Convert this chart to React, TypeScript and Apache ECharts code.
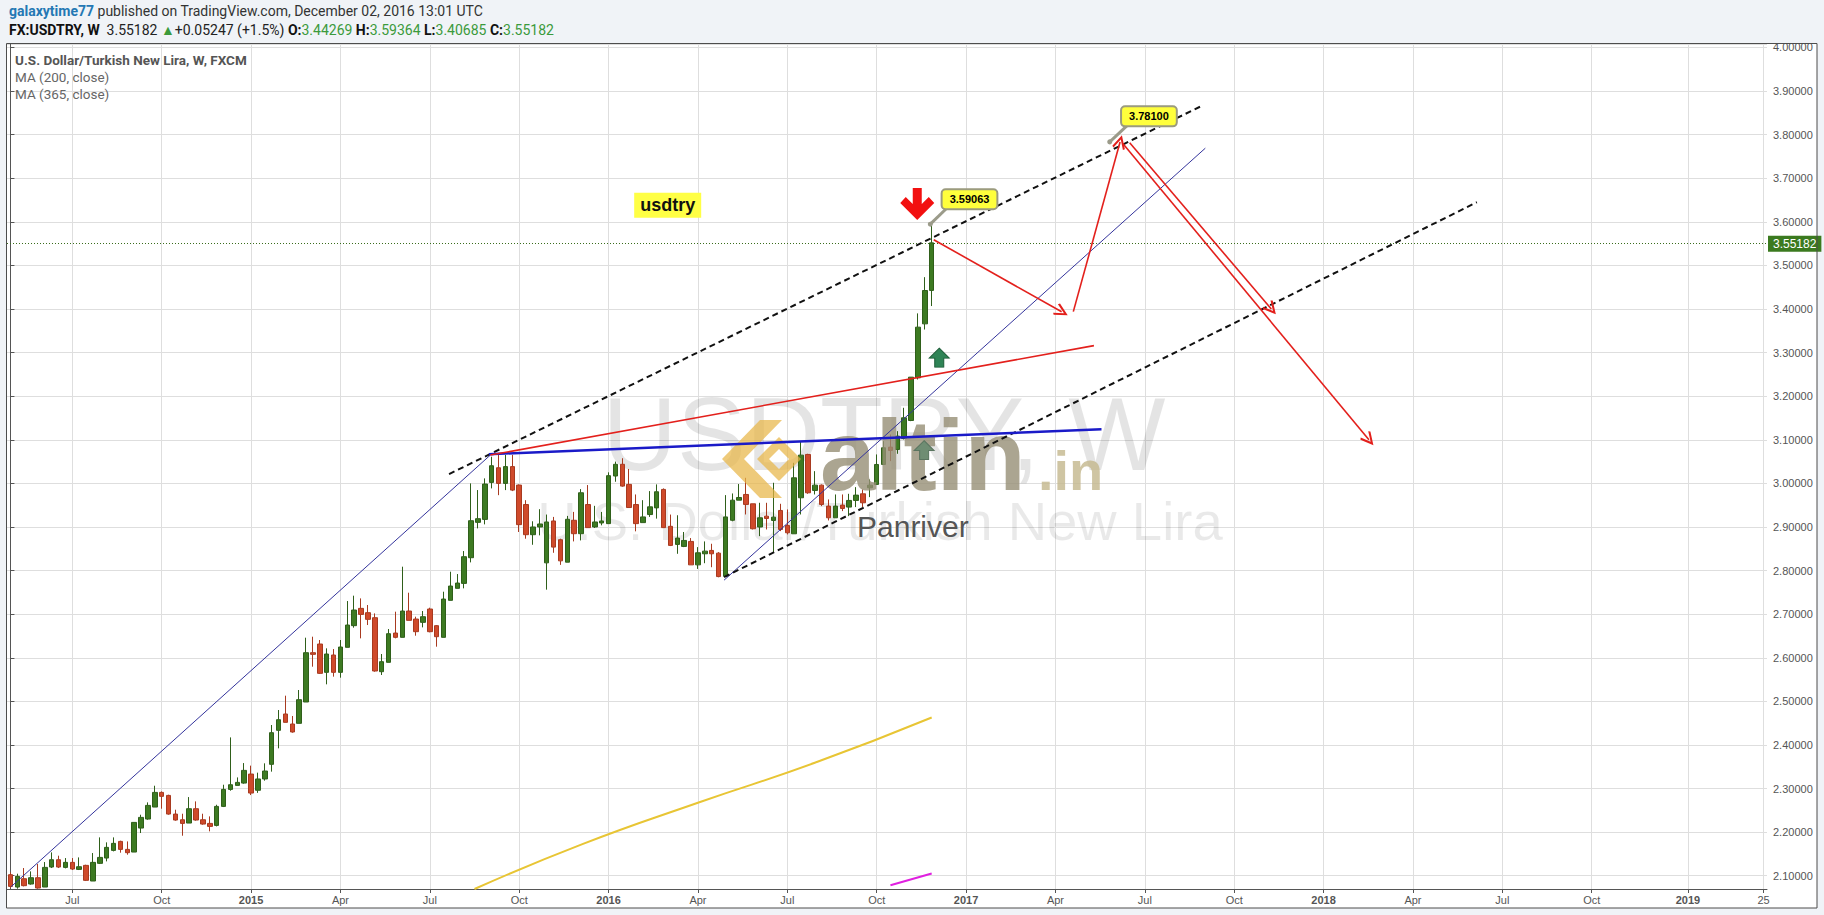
import React, { useEffect, useRef } from 'react';
import * as echarts from 'echarts';

// ---------- categories (weekly bars, Monday dates) ----------
const FIRST_WEEK_UTC = Date.UTC(2014, 4, 5);
const WEEK_COUNT = 256;
const WEEK_MS = 7 * 24 * 3600 * 1000;
const WEEKS: Date[] = Array.from({ length: WEEK_COUNT }, (_, i) => new Date(FIRST_WEEK_UTC + i * WEEK_MS));
const CATEGORIES = WEEKS.map((d) => d.toISOString().slice(0, 10));
const MONTH_ABBR = ['Jan', 'Feb', 'Mar', 'Apr', 'May', 'Jun', 'Jul', 'Aug', 'Sep', 'Oct', 'Nov', 'Dec'];

// ---------- OHLC (weekly) ----------
const OPEN = [
  2.1023, 2.074, 2.0931, 2.0809, 2.0954, 2.074, 2.1199, 2.1367, 2.1191, 2.1306,
  2.1145, 2.1237, 2.0878, 2.1283, 2.1405, 2.1581, 2.1787, 2.1604, 2.1543, 2.2093,
  2.23, 2.2575, 2.2911, 2.2842, 2.2414, 2.2284, 2.2208, 2.2537, 2.2284, 2.22,
  2.2154, 2.259, 2.298, 2.3072, 2.3125, 2.3332, 2.296, 2.3219, 2.3555, 2.4335,
  2.471, 2.448, 2.4495, 2.4985, 2.6116, 2.6315, 2.5665, 2.6063, 2.5665, 2.6239,
  2.6736, 2.7133, 2.7034, 2.6919, 2.568, 2.5895, 2.6567, 2.6468, 2.7072, 2.6888,
  2.6812, 2.7118, 2.6736, 2.6468, 2.7317, 2.7592, 2.7706, 2.8295, 2.9106, 2.9174,
  3.0023, 3.0359, 3.0, 3.0385, 2.9962, 2.9515, 2.8823, 2.9, 2.8177, 2.9138,
  2.8708, 2.8192, 2.9154, 2.8846, 2.9515, 2.9, 2.9092, 2.9077, 3.0169, 3.0438,
  2.9977, 2.9515, 2.91, 2.9285, 2.9438, 2.9862, 2.9015, 2.86, 2.8554, 2.8669,
  2.8131, 2.8385, 2.8462, 2.84, 2.7869, 2.9154, 2.9615, 2.9746, 2.9532, 2.9,
  2.9249, 2.915, 2.9379, 2.9035, 2.8844, 2.967, 3.0664, 2.9838, 2.996, 2.9479,
  2.9211, 2.9502, 2.9456, 2.9609, 2.9761, 2.9899, 2.9976, 3.0434, 3.0832, 3.0778,
  3.1031, 3.1443, 3.2422, 3.366, 3.44269,
];
const HIGH = [
  2.1076, 2.1046, 2.1176, 2.1099, 2.1268, 2.1313, 2.1535, 2.1459, 2.1405, 2.1405,
  2.142, 2.1252, 2.152, 2.1879, 2.1765, 2.1879, 2.1803, 2.1787, 2.2223, 2.2399,
  2.2682, 2.3064, 2.2934, 2.2858, 2.2514, 2.2422, 2.2804, 2.2705, 2.2422, 2.2361,
  2.2628, 2.3087, 2.4173, 2.3255, 2.3584, 2.3525, 2.3364, 2.3578, 2.4457, 2.4801,
  2.513, 2.4664, 2.526, 2.646, 2.6483, 2.6407, 2.6216, 2.62, 2.6407, 2.7301,
  2.7424, 2.7362, 2.721, 2.7018, 2.6086, 2.6659, 2.7057, 2.8089, 2.7492, 2.6942,
  2.7072, 2.7148, 2.6751, 2.7515, 2.7974, 2.792, 2.8448, 3.0, 2.9847, 3.0115,
  3.0612, 3.065, 3.0654, 3.0654, 2.9977, 2.9615, 2.9131, 2.9408, 2.9285, 2.9231,
  2.8731, 2.9254, 2.9346, 2.9869, 2.9962, 2.9485, 2.9346, 3.0254, 3.05, 3.0577,
  3.0331, 2.9746, 2.9615, 2.9823, 2.9977, 2.9885, 2.9285, 2.9269, 2.8885, 2.8746,
  2.8538, 2.8669, 2.8615, 2.8423, 2.9731, 2.9769, 2.9985, 3.0128, 2.9532, 2.9555,
  2.9555, 3.0014, 2.9532, 2.9402, 3.0472, 3.0969, 3.0679, 3.0281, 2.9976, 2.9632,
  2.9746, 2.9746, 2.9761, 2.9914, 2.9861, 3.009, 3.0664, 3.0969, 3.1122, 3.1199,
  3.1734, 3.2437, 3.39, 3.4731, 3.59364,
];
const LOW = [
  2.0717, 2.0702, 2.0755, 2.0794, 2.0702, 2.074, 2.1176, 2.1176, 2.1168, 2.113,
  2.113, 2.0878, 2.0878, 2.1268, 2.1329, 2.1558, 2.1528, 2.1482, 2.1543, 2.1979,
  2.2284, 2.2575, 2.2537, 2.2399, 2.2261, 2.1917, 2.2208, 2.2261, 2.217, 2.2017,
  2.2131, 2.2575, 2.295, 2.3072, 2.311, 2.285, 2.29, 2.318, 2.3387, 2.3922,
  2.4518, 2.4281, 2.4495, 2.4985, 2.5795, 2.5627, 2.539, 2.5566, 2.5543, 2.6239,
  2.669, 2.6445, 2.6751, 2.568, 2.5604, 2.5895, 2.6445, 2.6468, 2.6858, 2.6506,
  2.6697, 2.6583, 2.6254, 2.6468, 2.7317, 2.7592, 2.7592, 2.8188, 2.8968, 2.906,
  2.9885, 2.973, 2.9846, 2.9823, 2.8885, 2.8731, 2.8592, 2.8808, 2.7562, 2.8408,
  2.8131, 2.8192, 2.8669, 2.8692, 2.8985, 2.8977, 2.9038, 2.9077, 3.0038, 2.9923,
  2.9438, 2.89, 2.91, 2.9231, 2.9192, 2.8985, 2.8562, 2.8385, 2.8538, 2.8131,
  2.8038, 2.8169, 2.8077, 2.7846, 2.7862, 2.9131, 2.9615, 2.9287, 2.8943, 2.879,
  2.8943, 2.8408, 2.8905, 2.8829, 2.8844, 2.9287, 2.9761, 2.9746, 2.9479, 2.915,
  2.9211, 2.9364, 2.9249, 2.9456, 2.9456, 2.9685, 2.9976, 3.0434, 3.0511, 3.0679,
  3.1008, 3.1428, 3.2384, 3.353, 3.40685,
];
const CLOSE = [
  2.0755, 2.0985, 2.0771, 2.0954, 2.0717, 2.1191, 2.1367, 2.1199, 2.1306, 2.1153,
  2.1206, 2.0893, 2.1306, 2.142, 2.165, 2.1742, 2.1604, 2.1528, 2.2223, 2.2338,
  2.2613, 2.2911, 2.282, 2.2414, 2.2277, 2.22, 2.2537, 2.2277, 2.2185, 2.2131,
  2.259, 2.298, 2.3087, 2.3141, 2.3416, 2.2896, 2.3219, 2.3402, 2.4281, 2.4579,
  2.4518, 2.4297, 2.5038, 2.6116, 2.6078, 2.5642, 2.6086, 2.5665, 2.6246, 2.6751,
  2.7095, 2.6995, 2.6881, 2.5696, 2.591, 2.6552, 2.6468, 2.7072, 2.6858, 2.6598,
  2.6942, 2.6598, 2.6483, 2.7347, 2.7645, 2.7714, 2.8318, 2.9144, 2.919, 2.9985,
  3.0405, 3.0, 3.0385, 2.9846, 2.9054, 2.8823, 2.9, 2.9069, 2.9115, 2.8538,
  2.8223, 2.9177, 2.8846, 2.9785, 2.8985, 2.9115, 2.9138, 3.0177, 3.0438, 2.9938,
  2.9446, 2.9077, 2.9231, 2.9462, 2.9808, 2.8985, 2.8577, 2.8746, 2.8692, 2.8131,
  2.8408, 2.8446, 2.8385, 2.7862, 2.9231, 2.9615, 2.9677, 2.9517, 2.8959, 2.9211,
  2.9196, 2.9226, 2.8943, 2.8867, 3.0128, 3.0648, 2.9784, 2.996, 2.9517, 2.9211,
  2.9479, 2.9425, 2.9609, 2.9731, 2.9555, 2.996, 3.0434, 3.0817, 3.0755, 3.1084,
  3.1505, 3.2437, 3.3584, 3.4425, 3.55182,
];
const LAST_PRICE = 3.55182;

// ---------- moving averages (read at a few weeks) ----------
const MA200_WEEK = [67.5, 83.1, 100.1, 117, 134];
const MA200_VALUE = [2.0695, 2.172, 2.268, 2.359, 2.463];
const MA365_WEEK = [128, 134];
const MA365_VALUE = [2.078, 2.105];

// ---------- drawings ([week, price] pairs) ----------
const THIN_TRENDS = [
  [[0.1, 2.0748], [69.8, 3.0649]],
  [[103.8, 2.778], [173.8, 3.769]],
];
const CHANNEL = [
  [[63.8, 3.0213], [173.2, 3.8654]],
  [[103.8, 2.785], [213.3, 3.645]],
];
const SUPPORT = [[69.6, 3.067], [158.7, 3.124]];
const RED_LINE = [[69.8, 3.065], [157.6, 3.316]];
const RED_ARROWS = [
  [[134.3, 3.559], [152.9, 3.3936]],
  [[154.6, 3.394], [161.4, 3.783]],
  [[162.8, 3.7815], [183.4, 3.40]],
  [[161.8, 3.78], [197.6, 3.10]],
];
const CALLOUTS = [
  { text: '3.59063', box: [139.5, 3.652], tail: [136.3, 3.633], dot: [133.8, 3.5947] },
  { text: '3.78100', box: [165.6, 3.842], tail: [162.5, 3.8218], dot: [159.9, 3.7835] },
];
const NOTE_TEXT = 'usdtry';
const NOTE_AT = [95.6, 3.638];
const DOWN_ICON_AT = [131.9, 3.641];
const UP_ICONS_AT = [[135.1, 3.2885], [132.9, 3.0764]];

const AXIS_FONT = '"Liberation Sans", Arial, sans-serif';
const UI_FONT = '"Liberation Sans Narrow", Roboto, "Liberation Sans", sans-serif';

const LOGO_D =
  'M38,0 L60,0 L22,39 L60,78 L38,78 L0,39 Z ' +
  'M57,17 L79,39 L57,61 L35,39 Z M57,29 L47,39 L57,49 L67,39 Z';

const showTick = (i: number) => {
  if (i === WEEK_COUNT - 1) return true;
  const d = WEEKS[i];
  return d.getUTCMonth() % 3 === 0 && d.getUTCDate() <= 7;
};

const ARROW_HEAD = 'path://M6,0 L12,11 L10.5,12.3 L6,3.8 L1.5,12.3 L0,11 Z';

// baseline -> y for 'middle' (central) alignment in Liberation Sans
const mid = (baseline: number, size: number) => baseline - 0.3465 * size;

export default function App() {
  const ref = useRef<HTMLDivElement>(null);
  useEffect(() => {
    echarts.graphic.registerShape('altinLogo', echarts.graphic.extendPath(LOGO_D, {}));
    const chart = echarts.init(ref.current!, undefined, { renderer: 'svg' });

    const candles = OPEN.map((o, i) => [o, CLOSE[i], LOW[i], HIGH[i]]);

    const seg = (s: number[][], lineStyle: any, endSymbol: string = 'none') => [
      { coord: s[0], symbol: 'none', lineStyle },
      { coord: s[1], symbol: endSymbol, symbolSize: [13, 14], lineStyle },
    ];
    const thin = { color: '#34349c', width: 1, type: 'solid' };
    const dashed = { color: '#111', width: 2, type: [6, 4] };
    const thickBlue = { color: '#1a1ac8', width: 2.5, type: 'solid' };
    const red = { color: '#e3201c', width: 1.6, type: 'solid' };
    const tailStyle = { color: '#9b9b8a', width: 3, type: 'solid' };

    const drawLines: any[] = [
      ...THIN_TRENDS.map((s) => seg(s, thin)),
      ...CHANNEL.map((s) => seg(s, dashed)),
      seg(SUPPORT, thickBlue),
      seg(RED_LINE, red),
      ...RED_ARROWS.map((s) => seg(s, red, ARROW_HEAD)),
      ...CALLOUTS.map((c) => [
        { coord: c.dot, symbol: 'circle', symbolSize: 5, lineStyle: tailStyle, itemStyle: { color: '#8a8a8a' } },
        { coord: c.tail, symbol: 'none', lineStyle: tailStyle },
      ]),
    ];

    const calloutLabel = {
      show: true,
      position: 'inside',
      color: '#000',
      fontWeight: 'bold',
      fontSize: 11,
      fontFamily: AXIS_FONT,
      backgroundColor: '#ffff3c',
      borderColor: '#9b9b7e',
      borderWidth: 2,
      borderRadius: 3,
      padding: [4, 7, 3, 7],
    };

    const points: any[] = [
      {
        coord: NOTE_AT,
        symbol: 'rect',
        symbolSize: 1,
        itemStyle: { color: 'rgba(0,0,0,0)' },
        label: {
          show: true,
          position: 'inside',
          formatter: NOTE_TEXT,
          color: '#111',
          fontWeight: 'bold',
          fontSize: 18,
          fontFamily: AXIS_FONT,
          backgroundColor: '#ffff45',
          padding: [4, 6, 3, 6],
        },
      },
      ...CALLOUTS.map((c) => ({
        coord: c.box,
        symbol: 'rect',
        symbolSize: 1,
        itemStyle: { color: 'rgba(0,0,0,0)' },
        label: { ...calloutLabel, formatter: c.text },
      })),
      {
        coord: DOWN_ICON_AT,
        symbol:
          'path://M12.5,0 L21.5,0 L21.5,18 L17,22 L12.5,18 Z M0,15 L5.5,9 L17,20.5 L28.5,9 L34,15 L17,32 Z',
        symbolSize: [34, 32],
        itemStyle: { color: '#f21010' },
        label: { show: false },
      },
      ...UP_ICONS_AT.map((c, k) => ({
        coord: c,
        symbol: 'path://M10,0 L20,10 L14.5,10 L14.5,19 L5.5,19 L5.5,10 L0,10 Z',
        symbolSize: [20, 19],
        itemStyle: { color: k === 0 ? '#2f8456' : '#6f8d73', borderColor: k === 0 ? '#1f5e3a' : '#5b7560', borderWidth: 1 },
        label: { show: false },
      })),
    ];

    const option: any = {
      animation: false,
      backgroundColor: 'transparent',
      grid: { left: 7, right: 57, top: 44, bottom: 26, containLabel: false },
      xAxis: [
        {
          type: 'category',
          data: CATEGORIES,
          boundaryGap: true,
          axisLine: { show: true, lineStyle: { color: '#555', width: 1 } },
          axisTick: { show: true, alignWithLabel: true, interval: showTick, length: 4, lineStyle: { color: '#555' } },
          axisLabel: {
            interval: showTick,
            color: '#555',
            fontSize: 11,
            fontFamily: AXIS_FONT,
            margin: 5,
            formatter: (_v: string, i: number) => {
              const d = WEEKS[i];
              if (i === WEEK_COUNT - 1) return String(d.getUTCDate());
              if (d.getUTCMonth() === 0) return '{y|' + d.getUTCFullYear() + '}';
              return MONTH_ABBR[d.getUTCMonth()];
            },
            rich: { y: { fontWeight: 'bold', color: '#555', fontSize: 11, fontFamily: AXIS_FONT } },
          },
          splitLine: { show: true, interval: showTick, alignWithLabel: true, lineStyle: { color: '#dedede', width: 1 } },
        },
        { type: 'value', min: -0.5, max: WEEK_COUNT - 0.5, show: false },
      ],
      yAxis: {
        type: 'value',
        position: 'right',
        min: 2.0695,
        max: 4.008,
        splitNumber: 19,
        axisLine: { show: true, lineStyle: { color: '#555' } },
        axisTick: { show: true, length: 4, lineStyle: { color: '#555' } },
        axisLabel: {
          color: '#555',
          fontSize: 11,
          fontFamily: AXIS_FONT,
          margin: 6,
          showMinLabel: false,
          showMaxLabel: false,
          formatter: (v: number) => v.toFixed(5),
        },
        splitLine: { show: true, lineStyle: { color: '#dedede', width: 1 } },
      },
      series: [
        {
          type: 'candlestick',
          name: 'USDTRY',
          xAxisIndex: 0,
          yAxisIndex: 0,
          data: candles,
          barWidth: 5,
          z: 2,
          itemStyle: {
            color: '#3d7a22',
            color0: '#cf4a2b',
            borderColor: '#2f5f1a',
            borderColor0: '#a83a20',
            borderWidth: 1,
          },
          markLine: {
            silent: true,
            animation: false,
            symbol: ['none', 'none'],
            data: [{ yAxis: LAST_PRICE }],
            lineStyle: { type: [1, 2], color: '#3a6d1c', width: 1 },
            label: {
              show: true,
              position: 'end',
              distance: 1,
              formatter: LAST_PRICE.toFixed(5),
              color: '#fff',
              backgroundColor: '#3b7a1f',
              padding: [2, 5, 2, 5],
              fontSize: 12,
              fontFamily: AXIS_FONT,
            },
          },
        },
        {
          type: 'line',
          name: 'MA (200, close)',
          xAxisIndex: 1,
          yAxisIndex: 0,
          data: MA200_WEEK.map((w, i) => [w, MA200_VALUE[i]]),
          symbol: 'none',
          smooth: true,
          lineStyle: { color: '#e8c534', width: 2 },
          z: 2,
        },
        {
          type: 'line',
          name: 'MA (365, close)',
          xAxisIndex: 1,
          yAxisIndex: 0,
          data: MA365_WEEK.map((w, i) => [w, MA365_VALUE[i]]),
          symbol: 'none',
          lineStyle: { color: '#e020e0', width: 2 },
          z: 2,
        },
        {
          type: 'line',
          name: 'drawings',
          xAxisIndex: 1,
          yAxisIndex: 0,
          data: [],
          z: 4,
          markLine: {
            silent: true,
            animation: false,
            symbol: ['none', 'none'],
            label: { show: false },
            emphasis: { disabled: true },
            data: drawLines,
          },
          markPoint: {
            silent: true,
            animation: false,
            data: points,
          },
        },
      ],
      graphic: [
        { type: 'rect', z: -10, silent: true, shape: { x: 6.5, y: 43.5, width: 1810.5, height: 864.5 }, style: { fill: '#ffffff' } },
        {
          type: 'text', z: 1, silent: true,
          style: { text: 'USDTRY, W', x: 884, y: mid(470, 103), textAlign: 'center', textVerticalAlign: 'middle', fontSize: 103, fontFamily: AXIS_FONT, fill: 'rgba(0,0,0,0.105)' },
        },
        {
          type: 'text', z: 1, silent: true,
          style: { text: 'U.S. Dollar/Turkish New Lira', x: 880, y: mid(540, 54.5), textAlign: 'center', textVerticalAlign: 'middle', fontSize: 54.5, fontFamily: AXIS_FONT, fill: 'rgba(0,0,0,0.085)' },
        },
        { type: 'altinLogo', z: 3, silent: true, x: 722, y: 420, style: { fill: 'rgba(232,182,70,0.72)' } },
        {
          type: 'text', z: 3, silent: true,
          style: { text: 'altin', x: 820, y: mid(490, 100), textAlign: 'left', textVerticalAlign: 'middle', fontSize: 100, fontWeight: 'bold', fontFamily: AXIS_FONT, fill: 'rgba(150,142,118,0.8)' },
        },
        {
          type: 'text', z: 3, silent: true,
          style: { text: '.in', x: 1038, y: mid(490, 56), textAlign: 'left', textVerticalAlign: 'middle', fontSize: 56, fontWeight: 'bold', fontFamily: AXIS_FONT, fill: 'rgba(195,182,140,0.8)' },
        },
        {
          type: 'text', z: 3, silent: true,
          style: { text: 'Panriver', x: 857, y: mid(537, 30), textAlign: 'left', textVerticalAlign: 'middle', fontSize: 30, fontFamily: AXIS_FONT, fill: '#555' },
        },
        // header
        {
          type: 'text', z: 10, silent: true,
          style: {
            text: '{u|galaxytime77} published on TradingView.com, December 02, 2016 13:01 UTC',
            x: 9, y: 11, textVerticalAlign: 'middle', fontSize: 14, fontFamily: UI_FONT, fill: '#333',
            rich: { u: { fill: '#2478b4', color: '#2478b4', fontWeight: 'bold', fontSize: 14, fontFamily: UI_FONT } },
          },
        },
        {
          type: 'text', z: 10, silent: true,
          style: {
            text: '{b|FX:USDTRY, W}  3.55182 {g|▲}+0.05247 (+1.5%) {b|O:}{g|3.44269} {b|H:}{g|3.59364} {b|L:}{g|3.40685} {b|C:}{g|3.55182}',
            x: 9, y: 30, textVerticalAlign: 'middle', fontSize: 14, fontFamily: UI_FONT, fill: '#222',
            rich: {
              b: { fill: '#111', color: '#111', fontWeight: 'bold', fontSize: 14, fontFamily: UI_FONT },
              g: { fill: '#3b9a3b', color: '#3b9a3b', fontSize: 14, fontFamily: UI_FONT },
            },
          },
        },
        // legend
        {
          type: 'text', z: 10, silent: true,
          style: { text: 'U.S. Dollar/Turkish New Lira, W, FXCM', x: 15, y: 60, textVerticalAlign: 'middle', fontSize: 13.5, fontWeight: 'bold', fontFamily: UI_FONT, fill: '#555' },
        },
        {
          type: 'text', z: 10, silent: true,
          style: { text: 'MA (200, close)', x: 15, y: 77, textVerticalAlign: 'middle', fontSize: 13.5, fontFamily: UI_FONT, fill: '#666' },
        },
        {
          type: 'text', z: 10, silent: true,
          style: { text: 'MA (365, close)', x: 15, y: 94, textVerticalAlign: 'middle', fontSize: 13.5, fontFamily: UI_FONT, fill: '#666' },
        },
        { type: 'rect', z: 20, silent: true, shape: { x: 1768, y: 0, width: 56, height: 43.5 }, style: { fill: '#f0f3f7' } },
        { type: 'rect', z: 21, silent: true, shape: { x: 6.5, y: 43.5, width: 1810.5, height: 864.5 }, style: { fill: 'none', stroke: '#4d4d4d', lineWidth: 1 } },
      ],
    };

    chart.setOption(option);
    return () => chart.dispose();
  }, []);

  return (
    <div style={{ position: 'fixed', left: 0, top: 0, width: 1824, height: 915, background: '#f0f3f7' }}>
      <div ref={ref} style={{ width: 1824, height: 915 }} />
    </div>
  );
}
